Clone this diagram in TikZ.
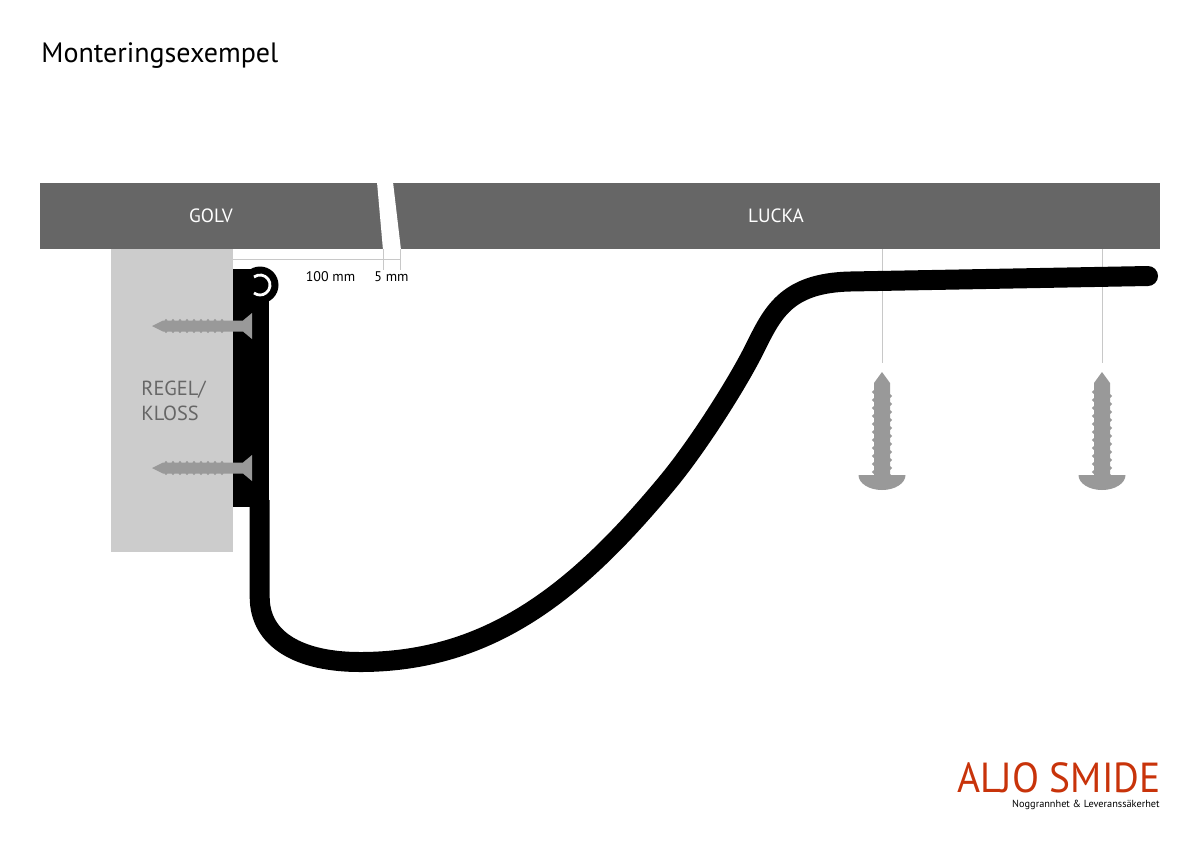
\documentclass[tikz,border=0pt]{standalone}
\usepackage{fontspec}
\setmainfont{PT Sans}
\definecolor{floorgrey}{HTML}{666666}
\definecolor{blockgrey}{HTML}{CCCCCC}
\definecolor{screwgrey}{HTML}{999999}
\definecolor{dimgrey}{HTML}{C8C8C8}
\definecolor{logored}{HTML}{C8330A}
\tikzset{
  floorlabel/.style={text=white,font=\fontsize{9.6}{11}\selectfont},
  dimlabel/.style={text=black,font=\fontsize{7}{8}\selectfont},
  dimline/.style={draw=dimgrey,line width=0.4pt},
  tube/.style={draw=black,line width=10pt},
  flatscrew/.pic={
    \fill[screwgrey] (0,0) -- (11,-5.5) -- (91,-5.5) -- (100,-13) -- (100,13)
      -- (91,5.5) -- (11,5.5) -- cycle;
    \foreach \tx in {14,21,...,70}{
      \fill[screwgrey] (\tx,-5.6) circle[radius=1.5] (\tx,5.6) circle[radius=1.5];
    }
  },
  roundscrew/.pic={
    \fill[screwgrey] (0,0) -- (8,11) -- (8,103) -- (23.5,103)
      arc[start angle=0,end angle=180,x radius=23.5,y radius=15]
      -- (-8,103) -- (-8,11) -- cycle;
    \foreach \ty in {20,28,...,100}{
      \fill[screwgrey] (-8.3,\ty) circle[radius=1.8] (8.3,\ty+4) circle[radius=1.8];
    }
  }
}
\begin{document}
\begin{tikzpicture}[x=0.5pt,y=-0.5pt]
  \useasboundingbox (0,0) rectangle (1200,848);
  % floor and hatch
  \fill[floorgrey] (40,183) rectangle (1160,249);
  \fill[white] (377,182) -- (393,182) -- (401,250) -- (383,250) -- cycle;
  \node[floorlabel] (golv) at (211,216) {GOLV};
  \node[floorlabel] (lucka) at (776,216) {LUCKA};
  % block
  \fill[blockgrey] (111,249) rectangle (233,552);
  \node[anchor=west,inner sep=0pt,align=left,text=floorgrey,font=\fontsize{10.2}{12.5}\selectfont] (regel) at (141,401) {REGEL/\\KLOSS};
  % measures
  \coordinate (d0) at (233,259);
  \coordinate (d1) at (383,259);
  \coordinate (d2) at (400,259);
  \draw[dimline] (d0) -- (d2);
  \draw[dimline] (383,249) -- (383,270);
  \draw[dimline] (400,249) -- (400,270);
  \draw[dimline] (882,249) -- (882,363);
  \draw[dimline] (1102,249) -- (1102,363);
  \node[dimlabel] (hundred) at (330.5,277) {100 mm};
  \node[dimlabel] (five) at (391.5,277) {5 mm};
  % hinge plate and hatch profile
  \fill[black] (233,269) rectangle (269,507);
  \fill[black] (260,285) circle[radius=18.5];
  \draw[white,line width=1.4pt] (254,277) arc[start angle=-127,end angle=127,radius=10];
  \draw[tube] (259.7,500) -- (259.7,597)
    .. controls (259.7,640) and (300,662) .. (360,662)
    .. controls (492,662) and (579,589) .. (667,483)
    .. controls (697,447) and (737,384) .. (754,350)
    .. controls (772,314) and (785,283) .. (850,281.5)
    -- (1148,276);
  \fill[black] (1148,276) circle[radius=10];
  % screws
  \pic at (152,326) {flatscrew};
  \pic at (152,468) {flatscrew};
  \pic at (882,372) {roundscrew};
  \pic at (1102,372) {roundscrew};
  % title and logo
  \node[anchor=west,inner sep=0pt,font=\fontsize{14}{16}\selectfont] (title) at (41,56) {Monteringsexempel};
  \node[anchor=base east,inner sep=0pt,text depth=0pt,text=logored,font=\fontsize{21}{24}\selectfont] (logo) at (1161,792) {\scalebox{0.94}[1]{ALJO SMIDE}};
  \node[anchor=base east,inner sep=0pt,text height=4pt,font=\fontsize{5.15}{6}\selectfont] (slogan) at (1160,807) {Noggrannhet \& Leveranssäkerhet};
\end{tikzpicture}
\end{document}
